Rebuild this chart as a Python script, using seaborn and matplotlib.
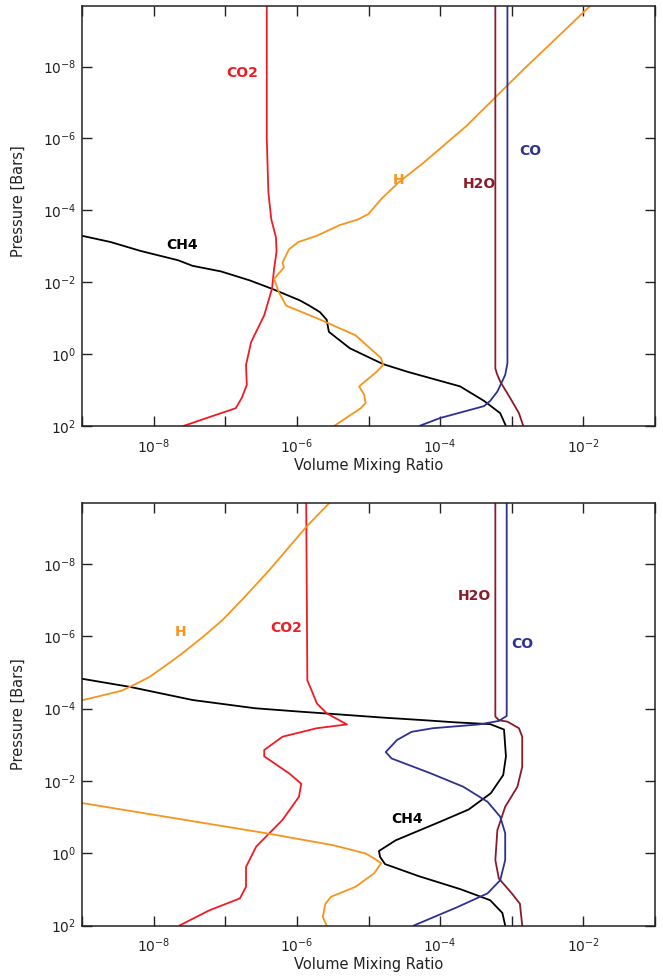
import numpy as np
import pandas as pd
import matplotlib
matplotlib.use("Agg")
import matplotlib.pyplot as plt
from matplotlib.ticker import NullLocator, NullFormatter
import seaborn as sns

# ---- upper panel: pressure [bar] and volume mixing ratio per species ----
top_co2_p = [2.0e-10, 1e-6, 3.2e-5, 1.8e-4, 5.6e-4, 1.4e-3, 4.3e-3, 1.5e-2, 8.3e-2, 0.46, 2.0, 7.2, 16.6, 32, 60, 100]
top_co2_x = [3.8e-7, 3.8e-7, 4.0e-7, 4.4e-7, 5.1e-7, 5.2e-7, 4.8e-7, 4.5e-7, 3.5e-7, 2.3e-7, 1.95e-7, 2.0e-7, 1.7e-7, 1.4e-7, 5.5e-8, 2.6e-8]

top_ch4_p = [5.1e-4, 7.6e-4, 1.35e-3, 2.45e-3, 3.5e-3, 5.0e-3, 8.9e-3, 1.55e-2, 3.2e-2, 4.5e-2, 6.8e-2, 0.11, 0.24, 0.69, 1.9, 3.1, 7.9, 20, 44, 100]
top_ch4_x = [1.0e-9, 2.5e-9, 6.6e-9, 2.2e-8, 3.5e-8, 8.7e-8, 2.2e-7, 4.6e-7, 1.1e-6, 1.5e-6, 2.1e-6, 2.6e-6, 2.8e-6, 5.5e-6, 1.6e-5, 3.5e-5, 1.9e-4, 4.1e-4, 6.9e-4, 8.3e-4]

top_h_p = [2.0e-10, 1.4e-8, 4.6e-7, 4.7e-6, 1.7e-5, 4.9e-5, 1.26e-4, 1.8e-4, 2.6e-4, 5.1e-4, 7.6e-4, 1.2e-3, 2.8e-3, 3.9e-3, 8.1e-3, 1.9e-2, 4.5e-2, 0.10, 0.30, 1.3, 2.0, 3.1, 7.9, 13.5, 23, 32, 100]
top_h_x = [1.26e-2, 1.35e-3, 2.3e-4, 5.9e-5, 2.6e-5, 1.5e-5, 1.0e-5, 7.1e-6, 3.9e-6, 1.9e-6, 1.05e-6, 7.8e-7, 6.3e-7, 6.6e-7, 4.8e-7, 5.6e-7, 7.1e-7, 1.9e-6, 6.6e-6, 1.5e-5, 1.6e-5, 1.3e-5, 7.4e-6, 8.7e-6, 9.1e-6, 7.8e-6, 3.3e-6]

top_h2o_p = [2.0e-10, 2.5, 3.5, 5.8, 16.6, 44, 100]
top_h2o_x = [5.9e-4, 5.9e-4, 6.2e-4, 6.9e-4, 9.5e-4, 1.26e-3, 1.45e-3]

top_co_p = [2.0e-10, 1.8, 3.8, 11, 20, 28, 60, 100]
top_co_x = [8.7e-4, 8.7e-4, 8.1e-4, 6.3e-4, 5.0e-4, 4.1e-4, 1.0e-4, 5.1e-5]

# ---- lower panel ----
bot_h_upper_p = [1.9e-10, 9.5e-10, 1.5e-8, 7.9e-8, 3.6e-7, 1.0e-6, 3.0e-6, 6.3e-6, 1.35e-5, 2.1e-5, 3.2e-5, 4.8e-5, 5.9e-5]
bot_h_upper_x = [2.95e-6, 1.35e-6, 4.1e-7, 1.9e-7, 9.1e-8, 5.0e-8, 2.5e-8, 1.5e-8, 8.7e-9, 5.6e-9, 3.6e-9, 1.55e-9, 1.0e-9]

bot_h_lower_p = [4.1e-2, 0.28, 0.60, 1.02, 1.4, 1.9, 3.6, 8.5, 16, 25, 58, 100]
bot_h_lower_x = [1.0e-9, 3.7e-7, 3.2e-6, 9.1e-6, 1.2e-5, 1.5e-5, 1.2e-5, 6.6e-6, 3.0e-6, 2.5e-6, 2.3e-6, 2.6e-6]

bot_ch4_p = [1.5e-5, 2.5e-5, 3.8e-5, 5.8e-5, 9.8e-5, 1.2e-4, 1.4e-4, 1.78e-4, 2.1e-4, 2.4e-4, 2.7e-4, 3.8e-4, 2.1e-3, 6.9e-3, 2.2e-2, 6.2e-2, 0.135, 0.44, 0.87, 1.26, 2.0, 4.3, 10, 20, 45, 100]
bot_ch4_x = [1.0e-9, 4.6e-9, 1.26e-8, 3.5e-8, 2.6e-7, 1.0e-6, 3.0e-6, 1.6e-5, 6.0e-5, 1.6e-4, 5.0e-4, 7.8e-4, 8.3e-4, 7.6e-4, 5.1e-4, 2.5e-4, 1.0e-4, 2.4e-5, 1.4e-5, 1.45e-5, 1.7e-5, 5.0e-5, 1.95e-4, 5.0e-4, 7.4e-4, 8.1e-4]

bot_co_p = [2.0e-10, 1.6e-4, 2.2e-4, 2.75e-4, 3.5e-4, 4.4e-4, 7.4e-4, 1.6e-3, 2.4e-3, 6.2e-3, 1.45e-2, 3.8e-2, 9.8e-2, 0.28, 1.55, 5.6, 12.9, 31, 100]
bot_co_x = [8.5e-4, 8.5e-4, 6.6e-4, 3.5e-4, 7.9e-5, 4.0e-5, 2.5e-5, 1.74e-5, 2.1e-5, 7.4e-5, 2.1e-4, 4.6e-4, 6.9e-4, 8.1e-4, 8.1e-4, 6.9e-4, 4.6e-4, 1.74e-4, 4.3e-5]

bot_h2o_p = [2.0e-10, 1.66e-4, 2.1e-4, 2.3e-4, 3.5e-4, 6.0e-4, 4.1e-3, 1.45e-2, 5.2e-2, 0.23, 1.55, 5.0, 12.9, 25, 100]
bot_h2o_x = [5.9e-4, 5.9e-4, 6.6e-4, 8.7e-4, 1.26e-3, 1.4e-3, 1.4e-3, 1.2e-3, 8.1e-4, 6.3e-4, 5.9e-4, 6.6e-4, 1.0e-3, 1.3e-3, 1.4e-3]

bot_co2_p = [2.0e-10, 1.66e-5, 3.1e-5, 7.2e-5, 1.35e-4, 2.75e-4, 3.5e-4, 6.0e-4, 1.4e-3, 2.1e-3, 6.2e-3, 1.2e-2, 2.75e-2, 0.12, 0.66, 2.4, 8.5, 17.8, 38, 100]
bot_co2_x = [1.35e-6, 1.4e-6, 1.6e-6, 1.9e-6, 2.6e-6, 5.0e-6, 1.9e-6, 6.3e-7, 3.5e-7, 3.5e-7, 7.8e-7, 1.15e-6, 1.07e-6, 6.3e-7, 2.7e-7, 1.95e-7, 1.95e-7, 1.6e-7, 6.0e-8, 2.3e-8]

colors = {
    "CO2": "#ee1c24",
    "CH4": "#000000",
    "H": "#f7941d",
    "H2O": "#8b1a2b",
    "CO": "#2e3192",
}

# curve lists per panel: (species, x, p)
top_curves = [
    ("CH4", top_ch4_x, top_ch4_p),
    ("CO2", top_co2_x, top_co2_p),
    ("H", top_h_x, top_h_p),
    ("H2O", top_h2o_x, top_h2o_p),
    ("CO", top_co_x, top_co_p),
]
bot_curves = [
    ("CH4", bot_ch4_x, bot_ch4_p),
    ("CO2", bot_co2_x, bot_co2_p),
    ("H", bot_h_upper_x, bot_h_upper_p),
    ("H", bot_h_lower_x, bot_h_lower_p),
    ("H2O", bot_h2o_x, bot_h2o_p),
    ("CO", bot_co_x, bot_co_p),
]

# label positions (data coords)
top_labels = [("CO2", 1.7e-7, 1.5e-8), ("CH4", 2.5e-8, 9.3e-4), ("H", 2.6e-5, 1.4e-5),
              ("H2O", 3.5e-4, 1.8e-5), ("CO", 1.8e-3, 2.3e-6)]
bot_labels = [("H", 2.4e-8, 7.6e-7), ("CO2", 7.2e-7, 5.8e-7), ("H2O", 3.0e-4, 7.8e-8),
              ("CO", 1.4e-3, 1.6e-6), ("CH4", 3.5e-5, 0.11)]

sns.set_theme(style="ticks")
plt.rcParams["font.family"] = ["DejaVu Sans"]
plt.rcParams["axes.linewidth"] = 1.1

fig = plt.figure(figsize=(6.63, 9.77), dpi=100)
ax_top = fig.add_axes([82 / 663, 1 - 426 / 977, 573 / 663, 420.5 / 977])
ax_bot = fig.add_axes([82 / 663, 1 - 925.5 / 977, 573 / 663, 423 / 977])


def draw_panel(ax, curves, labels, ylab_y):
    for name, xs, ps in curves:
        df = pd.DataFrame({"vmr": xs, "p": ps})
        sns.lineplot(data=df, x="vmr", y="p", sort=False, estimator=None,
                     color=colors[name], linewidth=1.3, ax=ax)
    ax.set_xscale("log")
    ax.set_yscale("log")
    ax.set_xticks([1e-8, 1e-6, 1e-4, 1e-2])
    ax.set_xticks([1e-9, 1e-7, 1e-5, 1e-3, 1e-1], minor=True)
    ax.xaxis.set_minor_formatter(NullFormatter())
    ax.set_yticks([1e-8, 1e-6, 1e-4, 1e-2, 1e0, 1e2])
    ax.yaxis.set_minor_locator(NullLocator())
    ax.set_xlim(1e-9, 1e-1)
    ax.set_ylim(100, 2e-10)
    ax.tick_params(which="both", direction="in", length=7, width=1.0,
                   top=True, right=True, labelsize=10, colors="#222222")
    ax.tick_params(axis="x", pad=8)
    ax.tick_params(axis="y", pad=4)
    for lab, lx, lp in labels:
        ax.text(lx, lp, lab, color=colors[lab], fontsize=10, fontweight="bold",
                ha="center", va="center")
    ax.set_xlabel("Volume Mixing Ratio", fontsize=10.5, color="#222222")
    ax.set_ylabel("Pressure [Bars]", fontsize=10.5, color="#222222")
    ax.xaxis.set_label_coords(0.5, -0.075)
    ax.yaxis.set_label_coords(-0.098, ylab_y)
    for sp in ax.spines.values():
        sp.set_color("#222222")


draw_panel(ax_top, top_curves, top_labels, 0.535)
draw_panel(ax_bot, bot_curves, bot_labels, 0.5)

fig.savefig("out.png", dpi=100)
